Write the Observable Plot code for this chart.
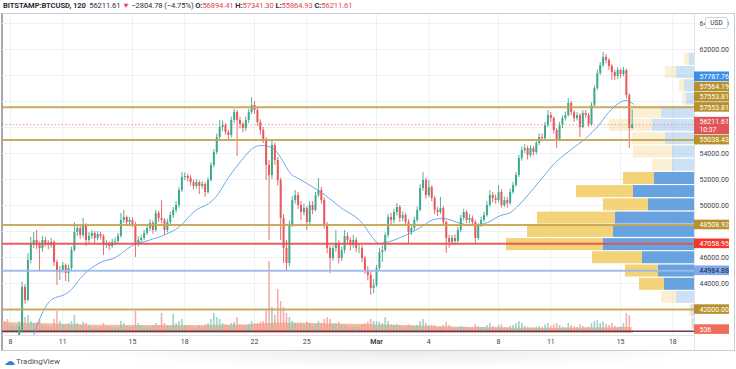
<!DOCTYPE html>
<html><head><meta charset="utf-8">
<script src="https://cdn.jsdelivr.net/npm/d3@7"></script>
<script src="https://cdn.jsdelivr.net/npm/@observablehq/plot@0.6"></script>
<style>
body{margin:0;background:#fff;font-family:Roboto,"Liberation Sans",sans-serif;}
#wrap{position:relative;width:736px;height:369px;overflow:hidden;background:#fff}
#hdr{position:absolute;left:3px;top:0px;font-size:7.6px;line-height:11px;color:#2a2e39;white-space:nowrap;letter-spacing:-0.1px}
#hdr b{font-weight:700}
#hdr .r{color:#e0474c}
.ln{position:absolute;background:#e0e3ea}
#frame{position:absolute;left:1px;top:13px;width:734px;height:338px;box-sizing:border-box;border:1px solid #c9ccd3;border-left:2px solid #a4a7ad}
#usd{position:absolute;left:705px;top:17px;width:21px;height:10px;border:1px solid #d0d3da;border-radius:2px;background:#fff;font-size:6.5px;line-height:10px;text-align:center;color:#333;z-index:9}
#shadow{position:absolute;left:80px;top:351px;width:640px;height:18px;background:radial-gradient(ellipse at top,rgba(0,0,0,0.08),rgba(0,0,0,0) 70%)}
#tv{position:absolute;left:4px;top:355px;font-size:8px;color:#4c4f59;white-space:nowrap}
#tv span{color:#2f7fe0;font-size:11px;vertical-align:-1px;margin-right:1px}
</style></head><body>
<div id="wrap">
<div id="frame"></div>
<div class="ln" style="left:694px;top:13px;width:1px;height:338px"></div>
<div class="ln" style="left:2px;top:335px;width:692px;height:1px"></div>
<div id="hdr"><b>BITSTAMP:BTCUSD, 120</b>&nbsp; 56211.61 <span class="r">▼</span> −2804.78 (−4.75%) <b>O:</b><span class="r">56894.41</span> <b>H:</b><span class="r">57341.30</span> <b>L:</b><span class="r">55864.93</span> <b>C:</b><span class="r">56211.61</span></div>
<div id="usd">USD</div>
<div id="shadow"></div>
<div id="tv"><span>☁</span>TradingView</div>
</div>
<script>
// ---------- DATA (4h candles from 2021-02-07 12:00 UTC; open = previous close) ----------
const firstOpen = 39000;
const closes = [39200,38900,38600,38800,38900,39300,40400,43700,42690,45770,
47080,47300,46920,46690,47310,47080,46920,47150,45610,44850,
45000,45380,44770,45150,46540,47920,48230,47690,48460,47310,
47620,47850,47460,47770,47620,46920,47080,46850,47150,47230,
47620,48850,49080,48690,48850,48540,47080,47310,47460,47850,
48230,48620,48080,49380,49000,48850,48080,48690,49230,49620,
50000,51150,52150,52230,52080,51770,51460,51770,51460,51620,
51000,51920,53080,54080,55230,56000,56150,55620,55380,56540,
57150,56540,56230,55920,56540,57150,57690,57310,56380,55770,
55000,53080,52310,54620,53460,51920,49000,46690,45540,48460,
50380,50770,50000,49460,49770,48690,50000,49620,50770,51150,
50380,48460,46690,45920,46690,47080,45920,46540,47620,47310,
46920,47310,46690,46690,45920,45000,44620,43620,43850,45150,
46380,46540,47690,49080,48850,49460,49850,49000,49230,48690,
47920,48230,48850,49620,51310,51920,50770,51380,50540,49620,
49460,49770,48690,47460,47150,47460,47230,48080,49000,49460,
48850,49000,48690,47460,48460,48850,49230,50000,50770,50540,
50380,51000,50000,50380,50150,51000,51540,52310,53620,54230,
54380,53850,54380,54080,54770,55230,55150,56150,56920,56690,
55770,55000,56150,56690,56920,57850,57150,56690,56920,56000,
57080,56920,56230,57690,59000,60150,60770,61380,61150,60690,
60230,59920,60380,60080,60380,58460,55920,56211.61];
const highs = [39500,39400,39100,39000,39200,39600,40700,44100,43900,46300,
47540,47920,48080,47200,47620,47540,47300,47460,47300,45800,
45300,45620,45500,45400,46800,48690,48500,48400,49000,48600,
47900,48080,48000,48000,47950,47750,47300,47200,47400,47500,
47850,49380,49620,49200,49100,49050,48700,47600,47700,48100,
48500,48900,48800,49620,49550,50380,49000,48950,49500,49850,
50300,51400,52540,52500,52400,52300,51950,52000,51900,51850,
51750,52150,53300,54300,55500,56540,56500,56300,55800,56800,
57380,57300,56800,56400,56800,57400,58310,58000,57500,56600,
56000,55200,53460,55000,54800,53700,52100,49300,47300,48800,
50700,51150,51000,50300,50100,49900,50300,50300,51000,52080,
51400,50600,48700,46900,46900,48080,47300,46800,48080,47900,
47500,47700,47500,47000,46900,46100,45300,44900,44300,45400,
46700,46900,47900,49300,49400,49700,50150,50000,49500,49400,
48900,48500,49100,49900,51600,52540,52100,51920,51500,50700,
49850,50620,49900,48800,47700,47700,47750,48300,49250,49700,
49600,49300,49200,48850,48600,49100,49500,50300,51150,51000,
50800,51540,51200,50650,50600,51250,51800,52550,53850,54500,
54700,54550,54600,54550,55000,55500,55500,56400,57310,57150,
56800,55900,56400,56900,57200,58230,58000,57300,57150,57050,
57300,57310,57100,57900,59200,60400,61000,61770,61600,61300,
60850,60400,60600,60500,60620,60500,58600,57341.30];
const lows = [38700,38500,38200,38300,38500,38800,39100,40200,42400,42600,
45500,46700,46600,45000,46400,46800,46600,46700,45300,43850,
44230,44800,44150,44080,45000,46400,47600,47400,47500,46850,
47100,47400,47080,47300,47350,46150,46700,46540,46700,46900,
47000,47500,48600,48400,48500,48300,46000,46800,47100,47300,
47700,48000,47800,47950,48700,48600,47700,47900,48500,49000,
49400,49800,51000,51900,51800,51500,51200,51300,50850,51250,
50620,50850,51800,52900,53900,55000,55700,55400,55000,55200,
56300,53770,55900,55600,55700,56300,57000,57000,56100,55400,
54770,51920,47310,52000,53100,51500,47310,45540,44920,45300,
48300,50100,49700,48850,49200,48080,48500,49300,49500,50600,
50100,48200,46300,44770,45700,46400,45500,45700,46300,47000,
46500,46700,46400,46300,45600,44700,44200,43080,43200,43700,
45000,45620,46400,47500,48500,48600,49200,48700,48750,48400,
47080,47700,48000,48700,49500,51100,50500,50600,50300,49300,
49150,49300,48400,46310,46700,46900,46900,47100,47900,48800,
48600,48600,48400,47080,47300,48300,48700,49100,49850,50200,
50100,50200,49800,49850,49800,50000,50850,51400,52150,53400,
54000,53500,53700,53800,53900,54600,54900,55000,56000,56400,
55500,54380,54900,55900,56500,56800,56900,56400,56500,55230,
55900,56700,56000,56100,57500,58850,60000,60600,60900,60400,
59620,59620,59700,59800,59900,58200,54380,55864.93];
const volumes = [2500,3000,3500,2200,1800,2000,3000,5750,4000,4500,
3000,2500,2800,3200,2000,1800,1600,1700,3500,5500,
3000,2000,2200,2500,3000,4500,2500,2000,2800,2500,
1800,1500,1600,1400,1500,2500,1600,1700,1400,1300,
1500,3000,2500,1800,1500,1600,5500,2500,1800,1600,
1500,1700,2000,2500,2000,5000,2500,1800,1600,4800,
2500,3000,3500,2000,1800,1600,1500,1400,1800,1500,
2200,2500,3500,5000,4000,3500,2500,2200,2000,2500,
2800,4000,2200,2000,1800,2200,3000,2500,2500,2800,
3000,5500,18000,6500,4500,11000,8000,6500,5000,4000,
3000,2500,2200,2500,2000,2800,2500,2000,2200,3000,
2500,3500,4000,3500,2500,2500,2800,2000,2200,1800,
1600,1500,1700,1500,2200,2500,2800,3500,3000,3000,
2800,2500,4000,3000,2200,2000,2200,2000,1600,1500,
2200,1800,1800,2000,3000,3500,2500,2000,2200,2000,
1500,1600,2000,2800,2000,1500,1300,1500,1800,1600,
1400,1300,1400,2200,1800,1500,1500,2000,2500,1800,
1500,2000,2200,1500,1400,1800,2000,2500,3000,2500,
1800,1600,1500,1400,1600,1800,1500,2200,2500,1800,
2200,2500,2000,1600,1500,2500,2000,1700,1500,2200,
1800,1500,1600,2500,3000,3200,2500,2800,2200,2000,
2500,1800,1500,1600,2500,5000,4500,536];

// moving average
const maTimes = ["2021-02-09T03:30Z","2021-02-09T21:30Z","2021-02-10T07:00Z","2021-02-10T14:00Z","2021-02-11T00:00Z","2021-02-11T10:30Z","2021-02-12T00:00Z","2021-02-12T11:00Z","2021-02-13T07:00Z","2021-02-14T00:30Z","2021-02-14T14:00Z","2021-02-15T00:00Z","2021-02-15T22:00Z","2021-02-16T21:30Z","2021-02-17T15:20Z","2021-02-18T14:45Z","2021-02-19T08:40Z","2021-02-19T18:15Z","2021-02-20T12:10Z","2021-02-21T06:00Z","2021-02-21T21:15Z","2021-02-22T08:15Z","2021-02-22T19:15Z","2021-02-23T05:00Z","2021-02-23T14:30Z","2021-02-24T01:30Z","2021-02-24T12:30Z","2021-02-25T09:15Z","2021-02-26T01:45Z","2021-02-26T22:25Z","2021-02-28T04:40Z","2021-02-28T18:30Z","2021-03-01T02:45Z","2021-03-01T12:20Z","2021-03-02T09:00Z","2021-03-03T12:30Z","2021-03-04T06:30Z","2021-03-04T20:15Z","2021-03-05T19:40Z","2021-03-06T13:30Z","2021-03-07T08:50Z","2021-03-08T02:40Z","2021-03-08T16:30Z","2021-03-09T03:30Z","2021-03-10T07:00Z","2021-03-11T06:25Z","2021-03-12T05:50Z","2021-03-12T23:45Z","2021-03-13T17:40Z","2021-03-14T07:25Z","2021-03-14T21:10Z","2021-03-15T06:50Z","2021-03-15T17:50Z"];
const maValues = [39230,41920,42690,42920,43080,43460,44380,45000,45690,46000,46540,46920,47310,47770,48310,49620,50150,50620,52150,53460,54380,54620,54540,54230,53460,52460,52080,51380,50770,49850,48620,47540,47080,47150,47540,48310,48920,49000,48620,48460,48690,49230,49460,50000,51770,53310,54380,55150,56150,57150,57850,58080,57788];

// volume moving-average band
const volMaTimes = ["2021-02-07T12:00Z","2021-02-09T12:00Z","2021-02-11T12:00Z","2021-02-14T12:00Z","2021-02-18T12:00Z","2021-02-21T12:00Z","2021-02-23T12:00Z","2021-02-26T12:00Z","2021-03-01T12:00Z","2021-03-04T12:00Z","2021-03-08T12:00Z","2021-03-11T12:00Z","2021-03-15T16:00Z"];
const volMaValues = [2750,2500,2250,2000,2000,2100,2600,2400,2100,1700,1400,1300,1500];

// visible-range volume profile (row centre price, up volume, down volume, in value area)
const profilePrices = [61250,60230,59210,58190,57170,56160,55140,54120,53100,52080,51070,50050,49030,48010,46990,45980,44960,43940,42920,41900,40880];
const profileUp =   [500,1800,1000,800,3300,4200,2900,2200,2200,4000,6100,4600,7900,8100,9100,5200,3600,3000,1800,300,200];
const profileDown = [500,1100,500,400,3200,4300,3300,3900,2000,3100,5700,4500,7800,8600,9700,5000,3300,2500,1500,200,100];
const profileVA =   [0,0,0,0,0,0,0,0,0,1,1,1,1,1,1,1,1,1,0,0,0];

// horizontal levels
const levelPrices = [57553.81,55038.43,48508.92,47058.95,44984.88,42000];
const levelKinds = ["gold","gold","gold","red","blue","gold"];
const lastPrice = 56211.61;
const lastVolume = 536;

// price-axis labels
const labelValues = [57787.76,57564.19,57553.81,57553.81,56211.61,55038.43,48508.92,47058.95,44984.88,42000,536];
const labelKinds = ["ma","gold","gold","gold","last","gold","gold","red","blue","gold","vol"];
const countdown = "10:37";

// ticks
const xTickDates = ["2021-02-08","2021-02-11","2021-02-15","2021-02-18","2021-02-22","2021-02-25","2021-03-01","2021-03-04","2021-03-08","2021-03-11","2021-03-15","2021-03-18"];
const xTickLabels = ["8","11","15","18","22","25","Mar","4","8","11","15","18"];
const yTicks = [44000,46000,48000,50000,52000,54000,56000,58000,60000,62000,64000];

// ---------- BUILD ----------
const t0 = new Date("2021-02-07T12:00Z");
const candles = closes.map((c,i)=>({
  t: d3.utcHour.offset(t0, 4*i), o: i ? closes[i-1] : firstOpen, h: highs[i], l: lows[i], c, v: volumes[i]
}));
const ma = maTimes.map((t,i)=>({t:new Date(t), v:maValues[i]}));
const volMa = volMaTimes.map((t,i)=>({t:new Date(t), v:volMaValues[i]}));
const profile = profilePrices.map((p,i)=>({p, up:profileUp[i], down:profileDown[i], va:profileVA[i]}));
const xTicks = xTickDates.map(d=>new Date(d+"T00:00Z"));
const tickLabel = new Map(xTicks.map((d,i)=>[+d, xTickLabels[i]]));

const xDomain = [new Date("2021-02-07T13:00Z"), new Date("2021-03-19T05:48Z")];
const yDomain = [40000, 64692];
const UP="#3fa98f", DOWN="#e65a5b";
const levelColor = {gold:"#c7a44f", red:"#e8504b", blue:"#9bb8ec"};
const labelStyle = {
  ma:{bg:"#3b8ee6",fg:"#fff"}, gold:{bg:"#b8912e",fg:"#fff"}, last:{bg:"#e0555a",fg:"#fff"},
  red:{bg:"#f2372b",fg:"#fff"}, blue:{bg:"#7fa8ea",fg:"#16254a"}, vol:{bg:"#ee6e5c",fg:"#fff"}
};
const FONT = "Roboto, 'Liberation Sans', sans-serif";

function base(o){
  return Object.assign({
    width:736, height:352, marginLeft:2, marginRight:42, marginTop:14, marginBottom:17,
    style:{position:"absolute",left:"0px",top:"0px",background:"transparent",fontFamily:FONT,fontSize:"7px",color:"#3b3f4a",overflow:"visible"}
  }, o);
}
const wrap = document.getElementById("wrap");

// C first (main price pane) so its y scale can place the axis labels
const C = Plot.plot(base({
  x:{type:"utc", domain:xDomain, axis:null},
  y:{domain:yDomain, axis:null},
  marks:[
    Plot.lineY(ma,{x:"t", y:"v", stroke:"#6aa7ec", strokeWidth:1, curve:"monotone-x", clip:true}),
    Plot.ruleX(candles,{x:"t", y1:"l", y2:"h", stroke:d=>d.c>=d.o?UP:DOWN, strokeWidth:0.9, clip:true}),
    Plot.ruleX(candles,{x:"t", y1:"o", y2:"c", stroke:d=>d.c>=d.o?UP:DOWN, strokeWidth:2, clip:true}),
    Plot.ruleY([lastPrice],{stroke:"#ef7f7f", strokeWidth:0.8, strokeDasharray:"1.5,2"}),
    Plot.ruleY(levelPrices.map((p,i)=>({p,k:levelKinds[i]})),{y:"p", stroke:d=>levelColor[d.k], strokeWidth:2, strokeOpacity:0.92})
  ]
}));

// D: volume pane
const D = Plot.plot(base({
  marginBottom:19,
  x:{type:"utc", domain:xDomain, axis:null},
  y:{domain:[0,79750], axis:null},
  marks:[
    Plot.areaY(volMa,{x:"t", y:"v", fill:"#f3a47a", fillOpacity:0.75, curve:"monotone-x", clip:true}),
    Plot.ruleX(candles,{x:"t", y1:0, y2:"v", stroke:d=>d.c>=d.o?"#7fcbbd":"#f29a98", strokeWidth:1.6, strokeOpacity:0.8, clip:true}),
    Plot.ruleY([lastVolume],{stroke:"#7a3352", strokeWidth:1.5})
  ]
}));

// axis labels, positioned through the library's scales and stacked to avoid overlap
const py = C.scale("y"), vy = D.scale("y");
let labels = labelValues.map((v,i)=>{
  const k = labelKinds[i];
  const y = k==="vol" ? Math.min(vy.apply(v), 335-6) : py.apply(v);
  return {v, k, y0:y, up:5, down: k==="last"?13:5.2, text: k==="vol" ? String(v) : v.toFixed(2), ...labelStyle[k]};
});
const sorted = labels.slice().sort((a,b)=>b.y0-a.y0);
let prevTop = Infinity;
for (const l of sorted){ l.cy = Math.min(l.y0, prevTop - l.down); prevTop = l.cy - l.up; }
// price ticks hidden under a label box are not drawn (as on the reference)
const shownTicks = yTicks.filter(t=>{ const y = py.apply(t); return !labels.some(l=>y > l.cy-l.up-2 && y < l.cy+l.down+1.5); });

// A: grid + axes
const A = Plot.plot(base({
  x:{type:"utc", domain:xDomain, ticks:xTicks, tickFormat:d=>tickLabel.get(+d) ?? "", tickSize:0, tickPadding:4, label:null},
  y:{domain:yDomain, ticks:shownTicks, tickFormat:d=>d.toFixed(2), tickSize:0, tickPadding:5, label:null, axis:"right"},
  marks:[
    Plot.ruleX(xTicks,{stroke:"#eef0f4"}),
    Plot.ruleY(yTicks,{stroke:"#eef0f4"})
  ]
}));
d3.select(A).selectAll("text").filter(function(){return this.textContent==="Mar";}).attr("font-weight","bold");

// B: volume profile
const B = Plot.plot(base({
  x:{domain:[0,69200], reverse:true, axis:null},
  y:{domain:yDomain, axis:null},
  marks:[
    Plot.rect(profile,{x1:0, x2:"up", y1:d=>d.p-508, y2:d=>d.p+508, fill:"#68a3e0", fillOpacity:d=>d.va?1:0.33, insetTop:0.6, insetBottom:0.6}),
    Plot.rect(profile,{x1:"up", x2:d=>d.up+d.down, y1:d=>d.p-508, y2:d=>d.p+508, fill:"#f3d278", fillOpacity:d=>d.va?1:0.33, insetTop:0.6, insetBottom:0.6})
  ]
}));

// E: label boxes
const E = Plot.plot({
  width:736, height:352, marginLeft:694, marginRight:7, marginTop:0, marginBottom:0,
  style:{position:"absolute",left:"0px",top:"0px",background:"transparent",fontFamily:FONT,fontSize:"7px",overflow:"visible"},
  x:{domain:[0,1], axis:null},
  y:{type:"identity", axis:null},
  marks:[
    Plot.rect(labels,{x1:0, x2:1, y1:d=>d.cy-d.up, y2:d=>d.cy+d.down, fill:"bg", insetTop:0.3, insetBottom:0.3}),
    Plot.text(labels,{x:0, y:"cy", text:"text", fill:"fg", dx:5, textAnchor:"start", fontSize:7}),
    Plot.text(labels.filter(d=>d.k==="last"),{x:0, y:d=>d.cy+8, text:()=>countdown, fill:"#fff", dx:5, textAnchor:"start", fontSize:6.8})
  ]
});

for (const s of [A,B,D,C,E]) wrap.appendChild(s);
wrap.appendChild(document.getElementById("usd"));
</script>
</body></html>
